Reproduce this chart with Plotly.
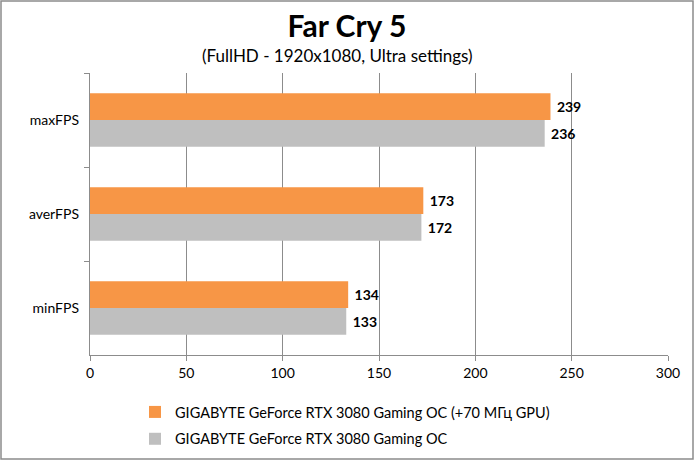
import plotly.graph_objects as go

# Data
categories = ["maxFPS", "averFPS", "minFPS"]
oc_name = "GIGABYTE GeForce RTX 3080 Gaming OC (+70 МГц GPU)"
stock_name = "GIGABYTE GeForce RTX 3080 Gaming OC"
oc_values = [239, 173, 134]
stock_values = [236, 172, 133]
x_ticks = [0, 50, 100, 150, 200, 250, 300]

W, H = 694, 460
ml, mr, mt, mb = 90, 26, 73, 105
pw, ph = W - ml - mr, H - mt - mb

font = "Lato, 'Open Sans', sans-serif"
label_font = dict(family=font, size=14, color="black", weight="bold")

fig = go.Figure()
fig.add_trace(go.Bar(
    y=categories, x=oc_values, orientation="h",
    name=oc_name, legendgroup="a",
    marker=dict(color="#F79646", line=dict(width=0)),
    text=["\u00a0" + str(v) for v in oc_values], textposition="outside",
    textfont=label_font, cliponaxis=False
))
fig.add_trace(go.Bar(
    y=categories, x=stock_values, orientation="h",
    name=stock_name, legendgroup="b",
    marker=dict(color="#BFBFBF", line=dict(width=0)),
    text=["\u00a0" + str(v) for v in stock_values], textposition="outside",
    textfont=label_font, cliponaxis=False
))

fig.update_layout(
    width=W, height=H,
    margin=dict(l=ml, r=mr, t=mt, b=mb, autoexpand=False),
    paper_bgcolor="white", plot_bgcolor="white",
    barmode="group", bargap=0.43, bargroupgap=0,
    font=dict(family=font, size=14, color="black"),
    title=dict(text="<b>Far Cry 5</b>", x=0.5, xanchor="center",
               y=1 - 26 / H, yanchor="middle",
               font=dict(size=30, family=font)),
    xaxis=dict(range=[0, 300], tickvals=x_ticks, showgrid=True,
               gridcolor="#8C8C8C", gridwidth=1, zeroline=False,
               showline=True, linecolor="#8C8C8C",
               ticks="outside", ticklen=5, tickcolor="#8C8C8C",
               tickfont=dict(size=14), automargin=False),
    yaxis=dict(autorange="reversed", showline=True, linecolor="#8C8C8C",
               ticks="outside", ticklen=5, tickcolor="#8C8C8C",
               tickson="boundaries", showgrid=False,
               tickfont=dict(size=14), ticksuffix="  ", automargin=False),
    legend=dict(orientation="v", x=(135 - ml) / pw, xanchor="left",
                y=-(396 - mt - ph) / ph, yanchor="top",
                traceorder="grouped", tracegroupgap=5,
                font=dict(size=14.5), itemwidth=30,
                bgcolor="rgba(0,0,0,0)"),
    showlegend=True,
)

# subtitle
fig.add_annotation(text="(FullHD - 1920x1080, Ultra settings)",
                   xref="paper", yref="paper", x=(337 - ml) / pw,
                   y=1 + (mt - 55) / ph, yanchor="middle", showarrow=False,
                   font=dict(size=17, family=font))

# outer frame
fig.add_shape(type="rect", xref="paper", yref="paper",
              x0=-(ml - 1) / pw, x1=1 + (mr - 1) / pw,
              y0=-(mb - 1) / ph, y1=1 + (mt - 1) / ph,
              line=dict(color="#8C8C8C", width=1.5))

fig.write_html("out.html", config={"displayModeBar": False},
               post_script="document.body.style.margin='0';")
